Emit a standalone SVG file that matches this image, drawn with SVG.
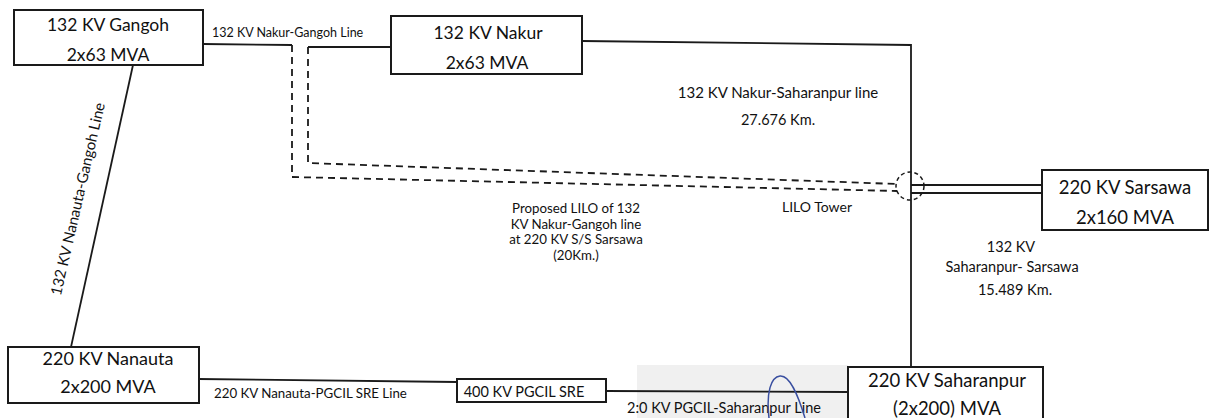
<svg xmlns="http://www.w3.org/2000/svg" width="1212" height="418" viewBox="0 0 1212 418">
<style>
.box{fill:#fff;stroke:#1a1a1a;stroke-width:2}
.t{font-family:Lato,"Liberation Sans",sans-serif;font-size:17.5px;fill:#111;text-anchor:middle}
.tb{font-size:18.5px}
.ln{fill:none;stroke:#1a1a1a;stroke-width:1.8}
.dl{fill:none;stroke:#1a1a1a;stroke-width:1.8;stroke-dasharray:7,5}
.lb{font-family:Lato,"Liberation Sans",sans-serif;font-size:14.5px;fill:#111}
.c{text-anchor:middle}
.pr{font-size:13.3px}
</style>
<rect width="1212" height="418" fill="#fff"/>
<rect x="637" y="365" width="211" height="53" fill="#f0f0f0"/>
<g id="connectors">
<path class="ln" d="M203,44 L292,45"/>
<path class="dl" d="M292,45 V177 L897,191"/>
<path class="ln" d="M308,47 L391,47"/>
<path class="dl" d="M308,47 V163 L897,184"/>
<path class="ln" d="M582,41 L911,45 V367"/>
<path class="ln" d="M911,185 H1042 M911,193 H1042"/>
<path class="ln" d="M133,65 L71,347"/>
<path class="ln" d="M198,379 L457,382"/>
<path class="ln" d="M606,391 L848,392"/>
<text class="lb" x="212" y="37" style="font-size:12.5px">132 KV Nakur-Gangoh Line</text>
<text class="lb c" x="778" y="98" style="font-size:15px">132 KV Nakur-Saharanpur  line</text>
<text class="lb c" x="778" y="125">27.676 Km.</text>
<text class="lb c pr" x="576" y="213">Proposed LILO of 132</text>
<text class="lb c pr" x="576" y="228.5">KV Nakur-Gangoh line</text>
<text class="lb c pr" x="576" y="244">at 220 KV S/S Sarsawa</text>
<text class="lb c pr" x="576" y="259.5">(20Km.)</text>
<text class="lb" x="782" y="212" style="font-size:14px">LILO Tower</text>
<text class="lb c" x="1011" y="252">132 KV</text>
<text class="lb c" x="1012" y="272">Saharanpur- Sarsawa</text>
<text class="lb c" x="1015" y="295">15.489 Km.</text>
<text class="lb c" transform="translate(78,199) rotate(-77)" y="5" style="font-size:15px">132 KV Nanauta-Gangoh Line</text>
<text class="lb" x="214" y="398" style="font-size:13.3px">220 KV Nanauta-PGCIL SRE Line</text>
<text class="lb" x="627" y="413">2:0 KV PGCIL-Saharanpur Line</text>
<path d="M769,418 C766,392 771,377 780,376 C790,375 798,395 805,418" fill="none" stroke="#3a4fa0" stroke-width="1.5"/>
</g>
<g id="ulo-tower">
<circle cx="910" cy="186" r="14" fill="none" stroke="#1a1a1a" stroke-width="1.5" stroke-dasharray="4,3"/>
</g>
<g id="gangoh">
<rect class="box" x="14" y="10" width="189" height="55"/>
<text class="t" x="108" y="31">132 KV Gangoh</text>
<text class="t" x="108" y="61">2x63 MVA</text>
</g>
<g id="nakur">
<rect class="box" x="391" y="16" width="191" height="58"/>
<text class="t" x="488" y="39">132 KV Nakur</text>
<text class="t" x="487" y="69">2x63 MVA</text>
</g>
<g id="sarsawa">
<rect class="box" x="1042" y="170" width="166" height="60"/>
<text class="t tb" x="1125" y="194">220 KV Sarsawa</text>
<text class="t tb" x="1125" y="224">2x160 MVA</text>
</g>
<g id="nanauta">
<rect class="box" x="8" y="347" width="191" height="56"/>
<text class="t" x="108" y="365" style="font-size:18px">220 KV Nanauta</text>
<text class="t" x="108" y="393" style="font-size:18px">2x200 MVA</text>
</g>
<g id="pgcil">
<rect class="box" x="457" y="379" width="149" height="23"/>
<text class="lb c" x="524" y="397">400 KV PGCIL SRE</text>
</g>
<g id="saharanpur">
<rect class="box" x="848" y="367" width="195" height="64"/>
<text class="t tb" x="947" y="387">220 KV Saharanpur</text>
<text class="t tb" x="947" y="415">(2x200) MVA</text>
</g>
</svg>
